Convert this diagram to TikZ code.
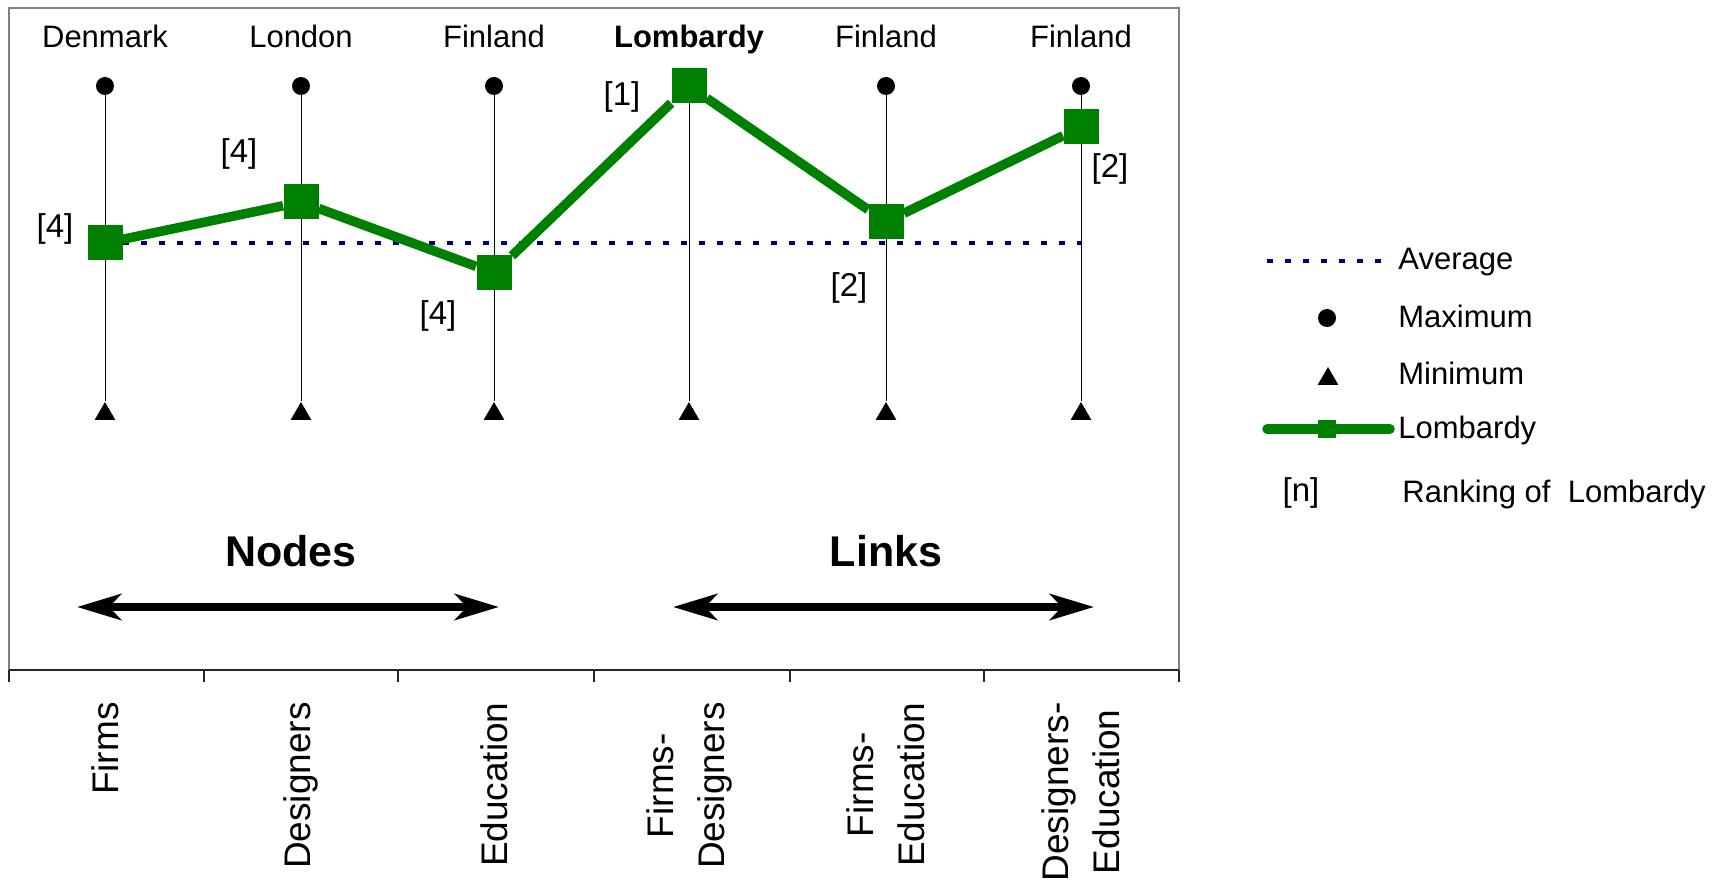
\documentclass[tikz,border=0pt]{standalone}
\usepackage{fontspec}
\setmainfont{Liberation Sans}
\usetikzlibrary{positioning,arrows.meta,shapes.geometric}

\definecolor{lombgreen}{RGB}{0,128,0}
\definecolor{avgblue}{RGB}{0,0,128}

\tikzset{
  maxdot/.style={circle,fill=black,inner sep=0pt,minimum size=9pt},
  mintri/.style={regular polygon,regular polygon sides=3,fill=black,inner sep=0pt,minimum size=12pt},
  lombsq/.style={rectangle,fill=lombgreen,inner sep=0pt,minimum size=17.5pt},
  lombline/.style={draw=lombgreen,line width=4.75pt},
  avgline/.style={draw=avgblue,line width=2pt,dash pattern=on 3pt off 6pt},
  rangeline/.style={draw=black,line width=0.5pt},
  country/.style={font=\fontsize{15.5}{18}\selectfont,inner sep=0pt,text height=0.72em,text depth=0.2em},
  rank/.style={font=\fontsize{16.5}{19}\selectfont,inner sep=0pt},
  catlabel/.style={rotate=90,anchor=east,align=center,inner sep=0pt,font=\fontsize{18.5}{25.5}\selectfont},
  grouplabel/.style={font=\bfseries\fontsize{21.5}{25}\selectfont,inner sep=0pt},
  grouparrow/.style={line width=4pt,>={Stealth[length=22pt,width=13pt,inset=6pt]},<->},
  legtext/.style={anchor=west,inner sep=0pt,text height=0.72em,text depth=0.2em,font=\fontsize{15.5}{18}\selectfont},
}

\begin{document}
\begin{tikzpicture}[x=0.5pt,y=-0.5pt]
\useasboundingbox (0,0) rectangle (1715,882);

% plot area and category axis
\draw[gray,line width=1pt] (9,8) rectangle (1179,670);
\draw[black!85,line width=1pt] (9,670) -- (1179,670);
\foreach \t in {9,204,398,594,790,984,1179}
  \draw[black!85,line width=0.6pt] (\t,670) -- (\t,682);

% maximum, minimum and best region per category
\foreach \x/\best [count=\i] in {105/Denmark,301/London,494/Finland,689/{\textbf{Lombardy}},886/Finland,1081/Finland} {
  \node[maxdot] (max\i) at (\x,86) {};
  \node[mintri] (min\i) at (\x,414) {};
  \node[country] (best\i) at (\x,42) {\best};
  \draw[rangeline] (max\i) -- (min\i);
}

% average
\coordinate (avgL) at (105,243);
\coordinate (avgR) at (1081,243);
\draw[avgline] (avgL) -- (avgR);

% Lombardy
\foreach \x/\y [count=\i] in {105/243,301/202,494/273,689/86,886/222,1081/127}
  \node[lombsq] (val\i) at (\x,\y) {};
\draw[lombline] (val1) -- (val2) -- (val3) -- (val4) -- (val5) -- (val6);

% rankings
\node[rank] (rank1) at (55,229) {[4]};
\node[rank] (rank2) at (239,154) {[4]};
\node[rank] (rank3) at (438,316) {[4]};
\node[rank] (rank4) at (622,97) {[1]};
\node[rank] (rank5) at (849,288) {[2]};
\node[rank] (rank6) at (1110,169) {[2]};

% groups
\coordinate (nodesL) at (77,607);
\coordinate (nodesR) at (499,607);
\draw[grouparrow] (nodesL) -- (nodesR);
\node[grouplabel] (nodes) at (291,551) {Nodes};
\coordinate (linksL) at (673,607);
\coordinate (linksR) at (1094,607);
\draw[grouparrow] (linksL) -- (linksR);
\node[grouplabel] (links) at (886,551) {Links};

% category labels
\foreach \x/\txt [count=\i] in {105/Firms,301/Designers,494/Education,689/{Firms-\\Designers},886/{Firms-\\Education},1081/{Designers-\\Education}}
  \node[catlabel] (cat\i) at (\x,702) {\txt};

% legend
\coordinate (legavgA) at (1267,261);
\coordinate (legavgB) at (1385,261);
\draw[avgline] (legavgA) -- (legavgB);
\node[legtext] (legavg) at (1398,264) {Average};
\node[maxdot] (legmax) at (1327,318) {};
\node[legtext] (legmaxt) at (1398,322) {Maximum};
\node[mintri] (legmin) at (1328,379) {};
\node[legtext] (legmint) at (1398,379) {Minimum};
\coordinate (leglomA) at (1267,429);
\coordinate (leglomB) at (1390,429);
\draw[lombline,line cap=round] (leglomA) -- (leglomB);
\node[lombsq,minimum size=9pt] (leglom) at (1327,429) {};
\node[legtext] (leglomt) at (1398,433) {Lombardy};
\node[rank] (legn) at (1301,493) {[n]};
\node[legtext] (legnt) at (1402,497) {Ranking of~~Lombardy};
\end{tikzpicture}
\end{document}
